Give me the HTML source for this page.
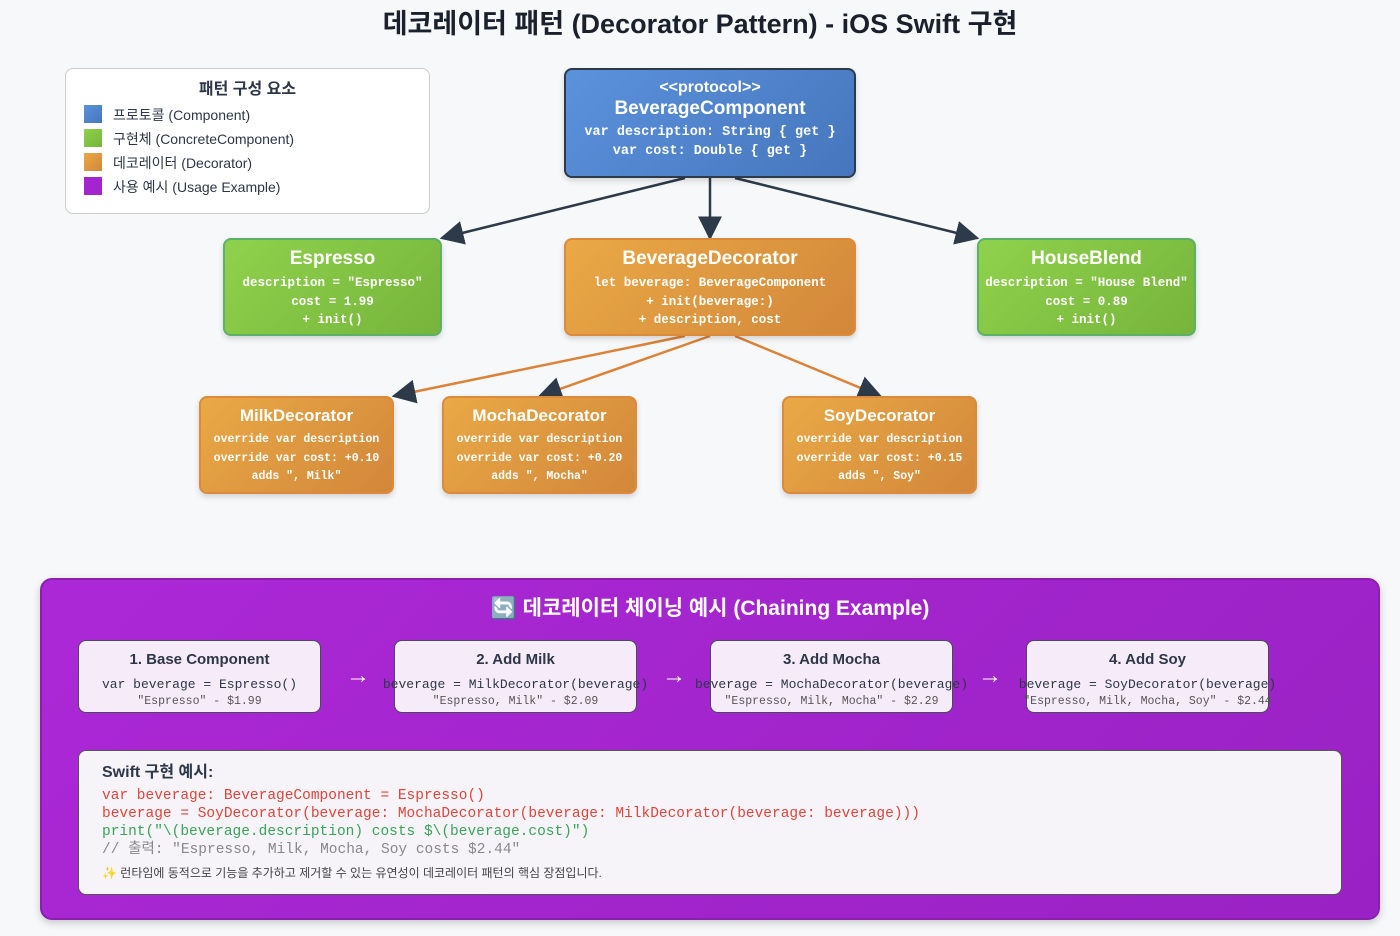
<!DOCTYPE html>
<html><head><meta charset="utf-8"><style>
*{box-sizing:border-box;margin:0;padding:0}
body{width:1400px;height:936px;background:#f7f8fa;font-family:"Liberation Sans","Noto Sans CJK KR",sans-serif;position:relative;overflow:hidden;color:#2d3748}
.abs{position:absolute}
.box{position:absolute;border-radius:8px;color:#fff;text-align:center;box-shadow:0 3px 6px rgba(0,0,0,.15)}
.box h3{font-size:19px;font-weight:bold;margin-top:8px}
.mono{font-family:"Liberation Mono","Noto Sans CJK KR",monospace;font-weight:bold;font-size:12.5px;line-height:18.5px}
.blue{background:linear-gradient(135deg,#5b92dc,#4676bd);border:2px solid #2d3a4a}
.green{background:linear-gradient(135deg,#8fd24c,#76b43b);border:2px solid #5bb06a}
.orange{background:linear-gradient(135deg,#eaa946,#d2873a);border:2px solid #dd8a3c}
.step{position:absolute;top:640px;width:243px;height:73px;background:#f6ebf8;border:1px solid #4a4a5a;border-radius:8px;text-align:center}
.step b{display:block;font-size:15px;margin-top:10px;color:#2d3748}
.step .c{font-family:"Liberation Mono",monospace;font-size:13px;margin-top:9px;white-space:nowrap;color:#2d3748}
.step .d{font-family:"Liberation Mono",monospace;font-size:11.5px;margin-top:3px;white-space:nowrap;color:#555}
.arr{position:absolute;top:662px;color:#fff;font-size:24px;font-weight:bold}
.leg{position:absolute;left:84px;width:18px;height:18px}
.lt{position:absolute;left:113px;font-size:14px;color:#2d3748}
</style></head><body>
<div class="abs" style="left:0;width:1400px;top:2px;text-align:center;font-size:27px;font-weight:bold;color:#1a202c">데코레이터 패턴 (Decorator Pattern) - iOS Swift 구현</div>

<div class="abs" style="left:65px;top:68px;width:365px;height:146px;background:#fff;border:1px solid #ccc;border-radius:8px"></div>
<div class="abs" style="left:65px;width:365px;top:75px;text-align:center;font-size:16px;font-weight:bold">패턴 구성 요소</div>
<div class="leg" style="top:105px;background:linear-gradient(135deg,#5b92dc,#4676bd)"></div><div class="lt" style="top:105px">프로토콜 (Component)</div>
<div class="leg" style="top:129px;background:linear-gradient(135deg,#8fd24c,#76b43b)"></div><div class="lt" style="top:129px">구현체 (ConcreteComponent)</div>
<div class="leg" style="top:153px;background:linear-gradient(135deg,#eaa946,#d2873a)"></div><div class="lt" style="top:153px">데코레이터 (Decorator)</div>
<div class="leg" style="top:177px;background:#a425d0"></div><div class="lt" style="top:177px">사용 예시 (Usage Example)</div>

<svg class="abs" style="left:0;top:0" width="1400" height="560">
<defs><marker id="n" viewBox="0 0 10 10" refX="9" refY="5" markerWidth="24" markerHeight="24" orient="auto" markerUnits="userSpaceOnUse"><path d="M0,0L10,5L0,10z" fill="#2d3a4a"/></marker></defs>
<g stroke="#2d3a4a" stroke-width="2.5" fill="none">
<line x1="685" y1="178" x2="442" y2="238" marker-end="url(#n)"/>
<line x1="710" y1="178" x2="710" y2="238" marker-end="url(#n)"/>
<line x1="735" y1="178" x2="977" y2="238" marker-end="url(#n)"/>
</g>
<g stroke="#dd8237" stroke-width="2.5" fill="none">
<line x1="685" y1="336" x2="394" y2="396" marker-end="url(#n)"/>
<line x1="710" y1="336" x2="540" y2="396" marker-end="url(#n)"/>
<line x1="735" y1="336" x2="880" y2="396" marker-end="url(#n)"/>
</g>
</svg>

<div class="box blue" style="left:564px;top:68px;width:292px;height:110px">
<div style="font-size:16px;font-weight:bold;margin-top:9px">&lt;&lt;protocol&gt;&gt;</div>
<div style="font-size:19px;font-weight:bold;margin-top:1px">BeverageComponent</div>
<div class="mono" style="font-size:13.5px;margin-top:4px">var description: String { get }<br>var cost: Double { get }</div></div>

<div class="box green" style="left:223px;top:238px;width:219px;height:98px"><h3>Espresso</h3><div class="mono" style="margin-top:4px">description = "Espresso"<br>cost = 1.99<br>+ init()</div></div>
<div class="box orange" style="left:564px;top:238px;width:292px;height:98px"><h3>BeverageDecorator</h3><div class="mono" style="margin-top:4px">let beverage: BeverageComponent<br>+ init(beverage:)<br>+ description, cost</div></div>
<div class="box green" style="left:977px;top:238px;width:219px;height:98px"><h3>HouseBlend</h3><div class="mono" style="margin-top:4px;white-space:nowrap">description = "House Blend"<br>cost = 0.89<br>+ init()</div></div>

<div class="box orange" style="left:199px;top:396px;width:195px;height:98px"><h3 style="font-size:17px">MilkDecorator</h3><div class="mono" style="font-size:11.5px;margin-top:5px">override var description<br>override var cost: +0.10<br>adds ", Milk"</div></div>
<div class="box orange" style="left:442px;top:396px;width:195px;height:98px"><h3 style="font-size:17px">MochaDecorator</h3><div class="mono" style="font-size:11.5px;margin-top:5px">override var description<br>override var cost: +0.20<br>adds ", Mocha"</div></div>
<div class="box orange" style="left:782px;top:396px;width:195px;height:98px"><h3 style="font-size:17px">SoyDecorator</h3><div class="mono" style="font-size:11.5px;margin-top:5px">override var description<br>override var cost: +0.15<br>adds ", Soy"</div></div>

<div class="abs" style="left:40px;top:578px;width:1340px;height:342px;background:linear-gradient(135deg,#ab28d6,#9a22c4);border:2px solid #8a1fb0;border-radius:12px;box-shadow:0 3px 8px rgba(0,0,0,.2)"></div>
<div class="abs" style="left:40px;width:1340px;top:592px;text-align:center;color:#fff;font-size:21px;font-weight:bold">🔄 데코레이터 체이닝 예시 (Chaining Example)</div>

<div class="step" style="left:78px"><b>1. Base Component</b><div class="c">var beverage = Espresso()</div><div class="d">"Espresso" - $1.99</div></div>
<div class="arr" style="left:346px">→</div>
<div class="step" style="left:394px"><b>2. Add Milk</b><div class="c" style="margin-left:-16px;margin-right:-16px">beverage = MilkDecorator(beverage)</div><div class="d">"Espresso, Milk" - $2.09</div></div>
<div class="arr" style="left:662px">→</div>
<div class="step" style="left:710px"><b>3. Add Mocha</b><div class="c" style="margin-left:-20px;margin-right:-20px">beverage = MochaDecorator(beverage)</div><div class="d">"Espresso, Milk, Mocha" - $2.29</div></div>
<div class="arr" style="left:978px">→</div>
<div class="step" style="left:1026px"><b>4. Add Soy</b><div class="c" style="margin-left:-16px;margin-right:-16px">beverage = SoyDecorator(beverage)</div><div class="d" style="margin-left:-16px;margin-right:-16px">"Espresso, Milk, Mocha, Soy" - $2.44</div></div>

<div class="abs" style="left:78px;top:750px;width:1264px;height:145px;background:#f6f3f9;border:1px solid #555;border-radius:8px;padding:7px 0 0 23px">
<div style="font-size:16px;font-weight:bold;color:#2d3748">Swift 구현 예시:</div>
<div style="font-family:'Liberation Mono','Noto Sans CJK KR',monospace;font-size:14.5px;line-height:18px;margin-top:5px">
<div style="color:#e0443a">var beverage: BeverageComponent = Espresso()</div>
<div style="color:#e0443a">beverage = SoyDecorator(beverage: MochaDecorator(beverage: MilkDecorator(beverage: beverage)))</div>
<div style="color:#3aa35a">print("\(beverage.description) costs $\(beverage.cost)")</div>
<div style="color:#888">// 출력: "Espresso, Milk, Mocha, Soy costs $2.44"</div></div>
<div style="font-size:12px;color:#444;margin-top:5px">✨ 런타임에 동적으로 기능을 추가하고 제거할 수 있는 유연성이 데코레이터 패턴의 핵심 장점입니다.</div>
</div>
</body></html>
